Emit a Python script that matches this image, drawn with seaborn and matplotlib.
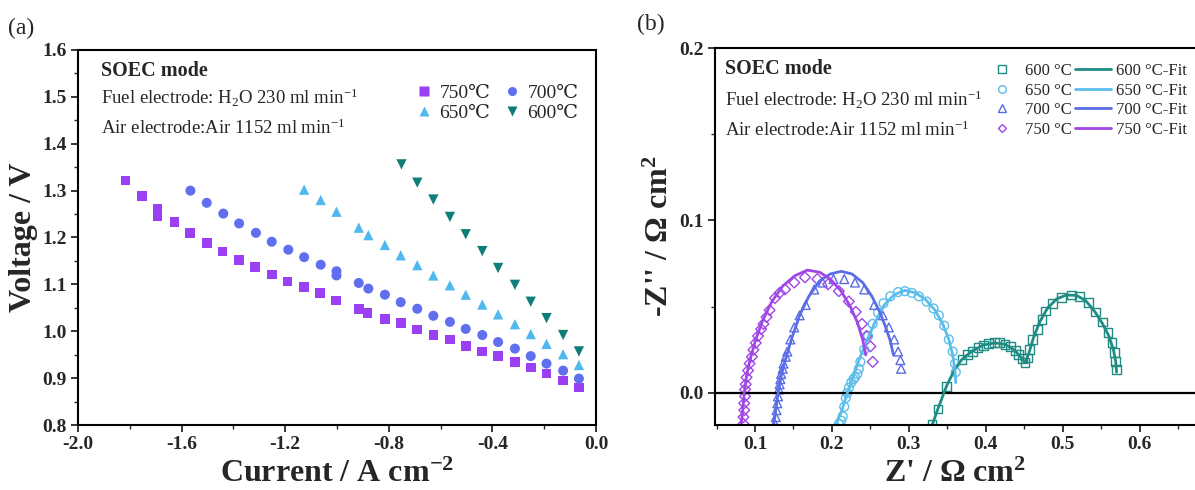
import numpy as np
import pandas as pd
import seaborn as sns
import matplotlib
matplotlib.use("Agg")
import matplotlib.pyplot as plt
from matplotlib.lines import Line2D
from matplotlib.ticker import MultipleLocator

# ---------------- Panel (a): polarization data ----------------
cur_750 = [-1.817, -1.754, -1.693, -1.693, -1.628, -1.567, -1.503, -1.442, -1.378, -1.317, -1.252, -1.191,
           -1.127, -1.066, -1.005, -0.916, -0.882, -0.815, -0.754, -0.690, -0.628, -0.564, -0.503, -0.439,
           -0.378, -0.313, -0.252, -0.191, -0.127, -0.066]
v_750 = [1.322, 1.288, 1.261, 1.245, 1.233, 1.209, 1.188, 1.170, 1.152, 1.137, 1.121, 1.106,
         1.094, 1.081, 1.066, 1.048, 1.039, 1.026, 1.017, 1.004, 0.992, 0.982, 0.969, 0.957,
         0.947, 0.934, 0.923, 0.910, 0.895, 0.880]
cur_700 = [-1.566, -1.503, -1.439, -1.378, -1.313, -1.252, -1.188, -1.127, -1.063, -1.002, -1.002, -0.916,
           -0.879, -0.815, -0.754, -0.690, -0.628, -0.564, -0.503, -0.439, -0.378, -0.313, -0.252, -0.191,
           -0.127, -0.066]
v_700 = [1.300, 1.274, 1.251, 1.230, 1.210, 1.191, 1.174, 1.158, 1.142, 1.128, 1.119, 1.103,
         1.091, 1.078, 1.062, 1.048, 1.033, 1.020, 1.005, 0.992, 0.977, 0.963, 0.947, 0.931,
         0.916, 0.899]
cur_650 = [-1.127, -1.063, -1.002, -0.916, -0.879, -0.815, -0.754, -0.690, -0.628, -0.564, -0.503, -0.439,
           -0.378, -0.313, -0.252, -0.191, -0.127, -0.066]
v_650 = [1.302, 1.280, 1.255, 1.221, 1.205, 1.184, 1.162, 1.141, 1.119, 1.098, 1.078, 1.057,
         1.036, 1.015, 0.994, 0.973, 0.951, 0.928]
cur_600 = [-0.751, -0.690, -0.628, -0.564, -0.503, -0.439, -0.378, -0.313, -0.252, -0.191, -0.127, -0.066]
v_600 = [1.356, 1.317, 1.281, 1.244, 1.207, 1.171, 1.135, 1.099, 1.063, 1.028, 0.992, 0.957]

# ---------------- Panel (b): impedance data ----------------
zr_600 = [0.330, 0.338, 0.349, 0.369, 0.376, 0.383, 0.390, 0.397, 0.404, 0.411, 0.418, 0.425, 0.432, 0.439,
          0.443, 0.448, 0.451, 0.454, 0.457, 0.461, 0.467, 0.473, 0.478, 0.487, 0.498, 0.511, 0.522,
          0.534, 0.543, 0.552, 0.559, 0.564, 0.567, 0.569, 0.570]
zi_600 = [-0.018, -0.0093, 0.0039, 0.0194, 0.0223, 0.0242, 0.0262, 0.0275, 0.0285, 0.0291, 0.0291, 0.0281,
          0.0267, 0.0246, 0.0223, 0.0198, 0.0178, 0.0203, 0.0252, 0.0310, 0.0368, 0.0426, 0.0475, 0.0519,
          0.0552, 0.0568, 0.0558, 0.0523, 0.0469, 0.0411, 0.0349, 0.0291, 0.0236, 0.0184, 0.0136]
zr_650 = [0.209, 0.212, 0.214, 0.216, 0.218, 0.220, 0.222, 0.225, 0.228, 0.230, 0.233, 0.235, 0.237, 0.242,
          0.247, 0.253, 0.260, 0.267, 0.276, 0.286, 0.295, 0.304, 0.313, 0.323, 0.332, 0.339, 0.346,
          0.352, 0.357, 0.360, 0.361]
zi_650 = [-0.018, -0.016, -0.0136, -0.008, -0.003, 0.000, 0.003, 0.006, 0.008, 0.009, 0.011, 0.014, 0.018,
          0.025, 0.033, 0.040, 0.0465, 0.052, 0.056, 0.0585, 0.059, 0.058, 0.056, 0.053, 0.049, 0.045,
          0.039, 0.031, 0.024, 0.017, 0.012]
zr_700 = [0.126, 0.127, 0.128, 0.129, 0.130, 0.131, 0.132, 0.133, 0.134, 0.136, 0.137, 0.140, 0.142, 0.146,
          0.151, 0.158, 0.166, 0.177, 0.188, 0.202, 0.216, 0.230, 0.242, 0.255, 0.266, 0.274, 0.281,
          0.286, 0.289, 0.290]
zi_700 = [-0.018, -0.014, -0.010, -0.006, -0.002, 0.002, 0.005, 0.008, 0.011, 0.014, 0.017, 0.021, 0.024,
          0.031, 0.038, 0.045, 0.051, 0.060, 0.064, 0.066, 0.066, 0.064, 0.060, 0.051, 0.045, 0.038,
          0.031, 0.024, 0.019, 0.014]
zr_750 = [0.085, 0.085, 0.086, 0.086, 0.087, 0.087, 0.088, 0.089, 0.091, 0.093, 0.096, 0.098, 0.101, 0.104,
          0.108, 0.111, 0.115, 0.119, 0.126, 0.132, 0.139, 0.151, 0.165, 0.181, 0.195, 0.209, 0.222,
          0.231, 0.239, 0.245, 0.250, 0.253]
zi_750 = [-0.018, -0.014, -0.010, -0.006, -0.002, 0.002, 0.005, 0.009, 0.013, 0.017, 0.021, 0.025, 0.029,
          0.033, 0.037, 0.040, 0.044, 0.048, 0.055, 0.058, 0.060, 0.064, 0.067, 0.066, 0.063, 0.059,
          0.053, 0.047, 0.040, 0.033, 0.027, 0.018]

# fit curves
fr_600 = [0.330, 0.338, 0.349, 0.360, 0.369, 0.383, 0.397, 0.411, 0.425, 0.437, 0.446, 0.451, 0.456, 0.462,
          0.470, 0.480, 0.492, 0.505, 0.518, 0.530, 0.542, 0.552, 0.560, 0.566, 0.569, 0.570]
fi_600 = [-0.019, -0.009, 0.004, 0.014, 0.0194, 0.0245, 0.0278, 0.0290, 0.0282, 0.025, 0.0205, 0.0175,
          0.023, 0.032, 0.041, 0.049, 0.0545, 0.0568, 0.0565, 0.0535, 0.047, 0.040, 0.033, 0.025, 0.018, 0.012]
fr_650 = [0.205, 0.213, 0.220, 0.228, 0.236, 0.245, 0.256, 0.268, 0.281, 0.295, 0.309, 0.322, 0.334, 0.344,
          0.352, 0.357, 0.360, 0.361]
fi_650 = [-0.019, -0.010, 0.000, 0.010, 0.020, 0.030, 0.041, 0.051, 0.057, 0.0595, 0.058, 0.054, 0.048,
          0.040, 0.031, 0.022, 0.013, 0.006]
fr_700 = [0.124, 0.127, 0.130, 0.134, 0.140, 0.148, 0.158, 0.170, 0.184, 0.198, 0.212, 0.226, 0.240, 0.252,
          0.262, 0.270, 0.276, 0.280]
fi_700 = [-0.019, -0.010, 0.000, 0.010, 0.020, 0.032, 0.045, 0.056, 0.065, 0.069, 0.0705, 0.069, 0.064,
          0.056, 0.047, 0.038, 0.030, 0.022]
fr_750 = [0.082, 0.084, 0.086, 0.089, 0.094, 0.101, 0.110, 0.122, 0.136, 0.152, 0.168, 0.184, 0.198, 0.212,
          0.224, 0.233, 0.240, 0.244]
fi_750 = [-0.019, -0.010, 0.000, 0.010, 0.020, 0.031, 0.042, 0.053, 0.062, 0.068, 0.0712, 0.070, 0.066,
          0.059, 0.050, 0.041, 0.031, 0.022]

labels_a = ["750℃", "700℃", "650℃", "600℃"]
labels_b = ["600 °C", "650 °C", "700 °C", "750 °C"]

# ---------------- styling ----------------
sns.set_theme(style="ticks")
plt.rcParams["font.family"] = ["Liberation Serif", "DejaVu Serif"]
plt.rcParams["mathtext.fontset"] = "custom"
plt.rcParams["mathtext.rm"] = "Liberation Serif"
plt.rcParams["mathtext.it"] = "Liberation Serif:italic"
plt.rcParams["mathtext.bf"] = "Liberation Serif:bold"

col_a = {"750": "#9a3ff2", "700": "#5f6ff0", "650": "#4fb8ef", "600": "#0f7d78"}
col_b = {"600": "#1f8c84", "650": "#5cbdea", "700": "#5a6ce6", "750": "#a046e6"}

fig = plt.figure(figsize=(11.95, 4.9), dpi=100)
axA = fig.add_axes([78 / 1195, 65 / 490, 518 / 1195, 375 / 490])
axB = fig.add_axes([715 / 1195, 65 / 490, 480 / 1195, 377 / 490])

# ---- Panel (a)
series_a = [(cur_750, v_750, col_a["750"], "s", 48),
            (cur_700, v_700, col_a["700"], "o", 52),
            (cur_650, v_650, col_a["650"], "^", 55),
            (cur_600, v_600, col_a["600"], "v", 55)]
for xs, ys, c, m, s in series_a:
    df = pd.DataFrame({"x": xs, "y": ys})
    sns.scatterplot(data=df, x="x", y="y", ax=axA, color=c, marker=m, s=s,
                    edgecolor="none", legend=False)

axA.set_xlim(-2.0, 0.0)
axA.set_ylim(0.8, 1.6)
axA.xaxis.set_minor_locator(MultipleLocator(0.2))
axA.yaxis.set_major_locator(MultipleLocator(0.1))
axA.yaxis.set_minor_locator(MultipleLocator(0.05))
axA.set_xticks([-2.0, -1.6, -1.2, -0.8, -0.4, 0.0])
axA.set_xticklabels(["-2.0", "-1.6", "-1.2", "-0.8", "-0.4", "0.0"])
axA.set_xlabel("Current / A cm$^{\\mathbf{-2}}$", fontsize=23, fontweight="bold", labelpad=5)
axA.set_ylabel("Voltage / V", fontsize=23, fontweight="bold", labelpad=3)

axA.text(0.044, 0.943, "SOEC mode", transform=axA.transAxes, fontsize=14.5, fontweight="bold", va="center")
axA.text(0.044, 0.872, "Fuel electrode: H$_2$O 230 ml min$^{-1}$", transform=axA.transAxes,
         fontsize=13.5, va="center")
axA.text(0.044, 0.790, "Air electrode:Air 1152 ml min$^{-1}$", transform=axA.transAxes,
         fontsize=13.5, va="center")

hA = [Line2D([], [], ls="none", marker="s", color=col_a["750"], ms=6.5, mec="none"),
      Line2D([], [], ls="none", marker="^", color=col_a["650"], ms=7, mec="none"),
      Line2D([], [], ls="none", marker="o", color=col_a["700"], ms=6.5, mec="none"),
      Line2D([], [], ls="none", marker="v", color=col_a["600"], ms=7, mec="none")]
lA = [labels_a[0], labels_a[2], labels_a[1], labels_a[3]]
axA.legend(hA, lA, ncol=2, loc="upper right", bbox_to_anchor=(1.0, 0.955), frameon=False,
           fontsize=14, handletextpad=0.2, columnspacing=0.5, labelspacing=0.12, handlelength=1.2)

# ---- Panel (b)
series_b = [(zr_600, zi_600, fr_600, fi_600, col_b["600"], "s"),
            (zr_650, zi_650, fr_650, fi_650, col_b["650"], "o"),
            (zr_700, zi_700, fr_700, fi_700, col_b["700"], "^"),
            (zr_750, zi_750, fr_750, fi_750, col_b["750"], "D")]
for zr, zi, fr, fi, c, m in series_b:
    dff = pd.DataFrame({"x": fr, "y": fi})
    sns.lineplot(data=dff, x="x", y="y", ax=axB, color=c, lw=2.0, sort=False, estimator=None)
    dfd = pd.DataFrame({"x": zr, "y": zi})
    sns.scatterplot(data=dfd, x="x", y="y", ax=axB, marker=m, s=40 if m != "D" else 30,
                    facecolor="none", edgecolor=c, linewidth=1.0, legend=False)

axB.axhline(0.0, color="black", lw=1.6, zorder=1)
axB.set_xlim(0.048, 0.672)
axB.set_ylim(-0.0186, 0.2)
axB.xaxis.set_minor_locator(MultipleLocator(0.05))
axB.yaxis.set_minor_locator(MultipleLocator(0.05))
axB.set_xticks([0.1, 0.2, 0.3, 0.4, 0.5, 0.6])
axB.set_xticklabels(["0.1", "0.2", "0.3", "0.4", "0.5", "0.6"])
axB.set_yticks([0.0, 0.1, 0.2])
axB.set_yticklabels(["0.0", "0.1", "0.2"])
axB.set_xlabel("Z' / Ω cm$^{\\mathbf{2}}$", fontsize=23, fontweight="bold", labelpad=5)
axB.set_ylabel("-Z'' / Ω cm$^{\\mathbf{2}}$", fontsize=23, fontweight="bold", labelpad=3)
axB.spines["right"].set_visible(False)

axB.text(0.021, 0.944, "SOEC mode", transform=axB.transAxes, fontsize=14.5, fontweight="bold", va="center")
axB.text(0.021, 0.862, "Fuel electrode: H$_2$O 230 ml min$^{-1}$", transform=axB.transAxes,
         fontsize=13.5, va="center")
axB.text(0.021, 0.783, "Air electrode:Air 1152 ml min$^{-1}$", transform=axB.transAxes,
         fontsize=13.5, va="center")

hB = [Line2D([], [], ls="none", marker=m, mfc="none", mec=c, ms=(5.5 if m != "D" else 4.5), mew=1.0)
      for (_, _, _, _, c, m) in series_b]
hB += [Line2D([], [], color=c, lw=2.0) for (_, _, _, _, c, m) in series_b]
lB = labels_b + [l + "-Fit" for l in labels_b]
axB.legend(hB, lB, ncol=2, loc="upper right", bbox_to_anchor=(1.015, 1.0), frameon=False,
           fontsize=12, handletextpad=0.3, columnspacing=0.15, labelspacing=0.22, handlelength=2.2)

for ax in (axA, axB):
    for sp in ax.spines.values():
        sp.set_linewidth(1.5)
        sp.set_color("black")
    ax.tick_params(which="major", direction="out", length=5, width=1.3, labelsize=14, pad=3)
    ax.tick_params(which="minor", direction="out", length=3, width=1.0)
    for t in ax.get_xticklabels() + ax.get_yticklabels():
        t.set_fontweight("bold")

fig.text(8 / 1195, 1 - 28 / 490, "(a)", fontsize=17, va="center", ha="left")
fig.text(637 / 1195, 1 - 24 / 490, "(b)", fontsize=17, va="center", ha="left")

fig.savefig("out.png", dpi=100, facecolor="white")
